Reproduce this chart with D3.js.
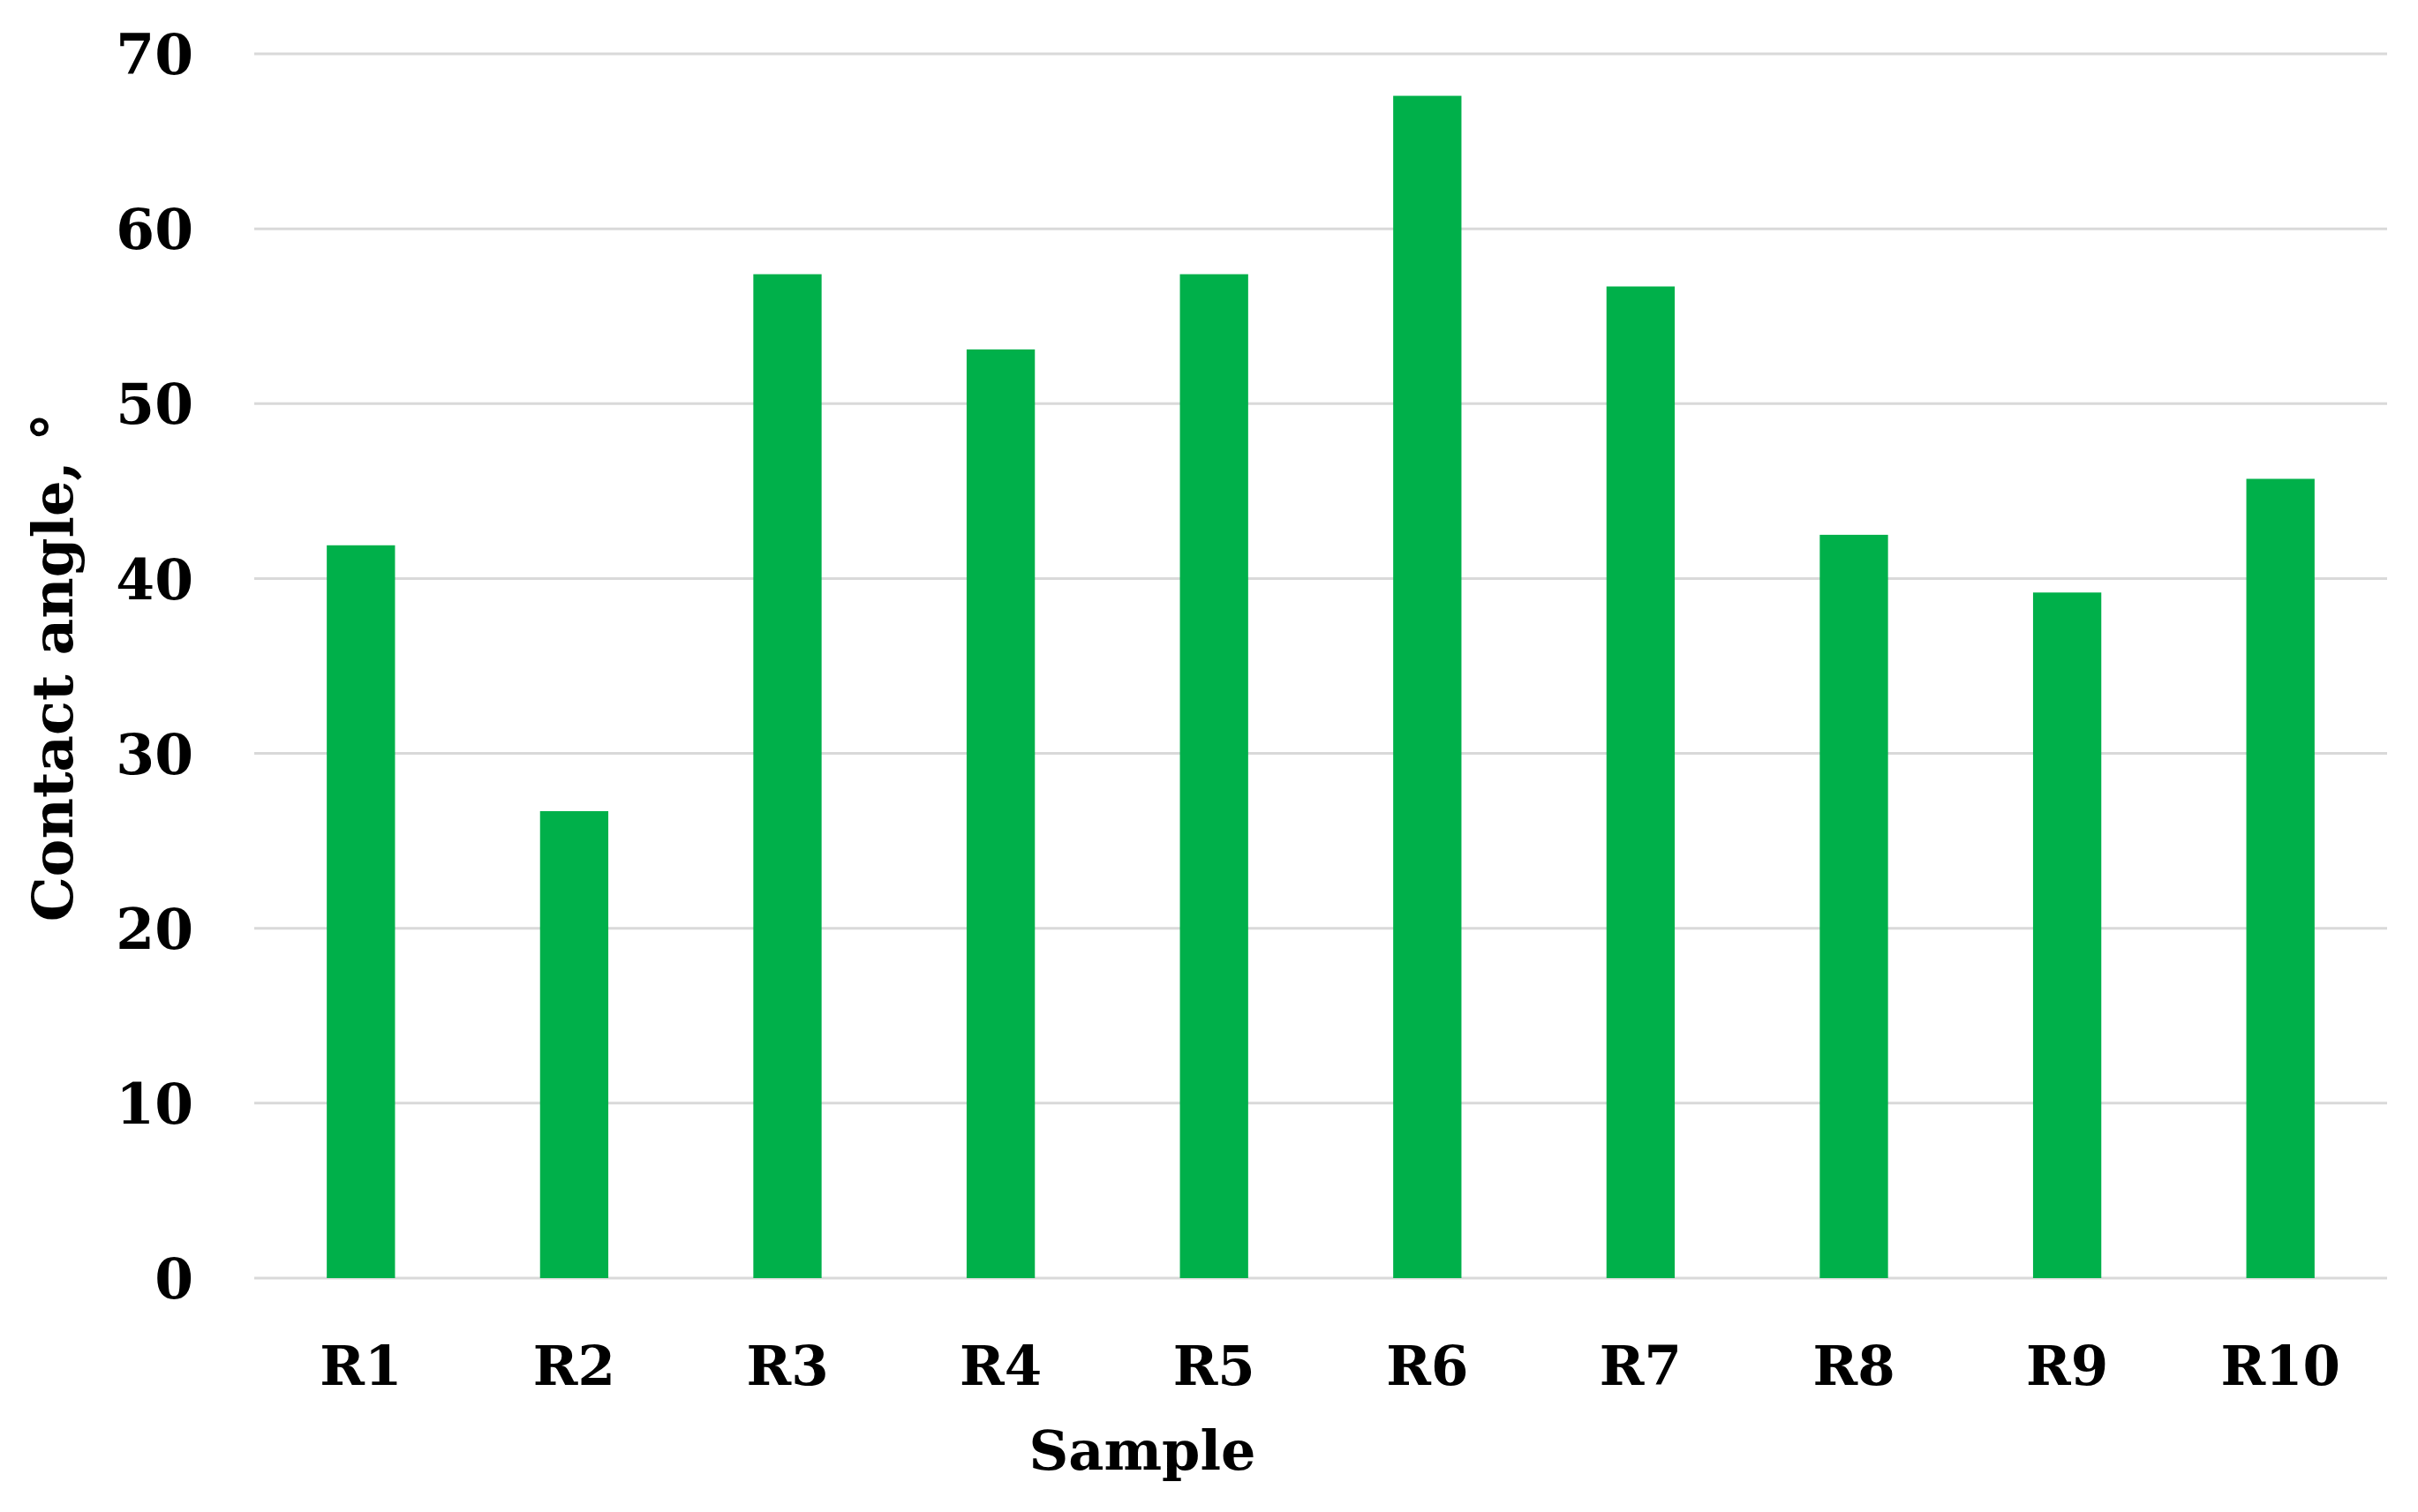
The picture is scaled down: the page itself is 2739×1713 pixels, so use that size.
<!DOCTYPE html>
<html>
<head>
<meta charset="utf-8">
<script src="https://cdn.jsdelivr.net/npm/d3@7"></script>
<style>
  html, body { margin: 0; padding: 0; background: #ffffff; }
  svg { display: block; }
  text { font-family: "DejaVu Serif", serif; font-weight: bold; fill: #000; }
</style>
</head>
<body>
<script>
const categories = ["R1", "R2", "R3", "R4", "R5", "R6", "R7", "R8", "R9", "R10"];
const contactAngle = [41.9, 26.7, 57.4, 53.1, 57.4, 67.6, 56.7, 42.5, 39.2, 45.7];
const yTicks = [0, 10, 20, 30, 40, 50, 60, 70];
const xTitle = "Sample";
const yTitle = "Contact angle, °";

const W = 2739, H = 1713;
const plotLeft = 288, plotRight = 2704, plotTop = 61, plotBottom = 1448;

const svg = d3.select("body").append("svg").attr("width", W).attr("height", H);

const x = d3.scaleBand().domain(categories).range([plotLeft, plotRight]).paddingInner(0.68).paddingOuter(0.34);
const y = d3.scaleLinear().domain([0, 70]).range([plotBottom, plotTop]);

// gridlines
svg.append("g").selectAll("line").data(yTicks).join("line")
  .attr("x1", plotLeft).attr("x2", plotRight)
  .attr("y1", d => y(d)).attr("y2", d => y(d))
  .attr("stroke", "#d9d9d9").attr("stroke-width", 3);

// bars
svg.append("g").selectAll("rect").data(categories).join("rect")
  .attr("x", d => x(d))
  .attr("width", x.bandwidth())
  .attr("y", (d, i) => y(contactAngle[i]))
  .attr("height", (d, i) => y(0) - y(contactAngle[i]))
  .attr("fill", "#00b04a");

// y axis labels
const yAxis = d3.axisLeft(y).tickValues(yTicks).tickSize(0).tickPadding(0);
const gy = svg.append("g").attr("transform", `translate(219,0)`).call(yAxis);
gy.select(".domain").remove();
gy.selectAll("text").attr("font-size", 63).attr("font-family", "DejaVu Serif").attr("font-weight", "bold").attr("fill", "#000").attr("dy", "0.36em");

// x axis labels
const xAxis = d3.axisBottom(x).tickSize(0).tickPadding(0);
const gx = svg.append("g").attr("transform", `translate(0,1569)`).call(xAxis);
gx.select(".domain").remove();
gx.selectAll("text").attr("font-size", 61).attr("font-family", "DejaVu Serif").attr("font-weight", "bold").attr("fill", "#000").attr("dy", 0);

// titles
svg.append("text").attr("x", 1294).attr("y", 1665).attr("text-anchor", "middle")
  .attr("font-size", 62).text(xTitle);
svg.append("text").attr("transform", "translate(82,756) rotate(-90)").attr("text-anchor", "middle")
  .attr("font-size", 64).text(yTitle);
</script>
</body>
</html>
